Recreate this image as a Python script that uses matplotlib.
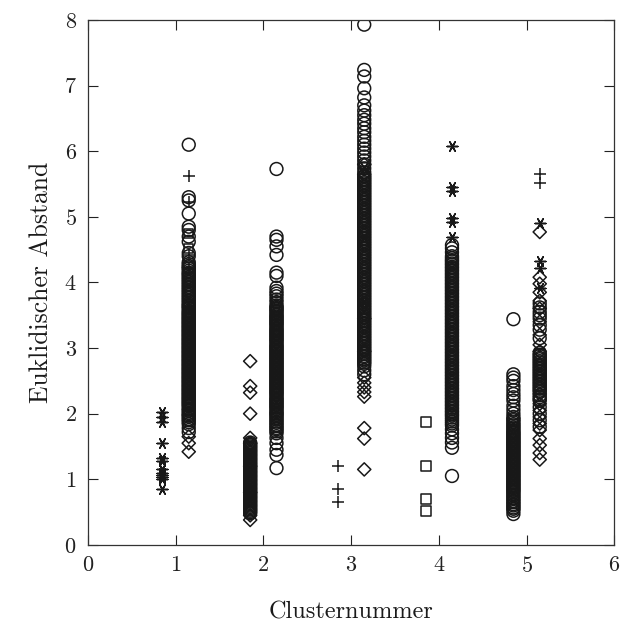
import numpy as np
import matplotlib.pyplot as plt

plt.rcParams['font.family'] = ['cmr10', 'DejaVu Serif']
plt.rcParams['axes.formatter.use_mathtext'] = True

# x positions of the columns (cluster number -/+ offset)
x_left = [0.85, 1.85, 2.85, 3.85, 4.85]
x_right = [1.15, 2.15, 3.15, 4.15, 5.15]

# cluster 1
c1l_star = [2.02, 1.95, 1.88, 1.55, 1.32, 1.28, 1.15, 1.10, 1.07, 1.03, 1.00, 0.85]
c1r_circ = [6.10, 5.30, 5.25, 5.05, 4.85, 4.80, 4.70, 4.62, 4.45, 4.40, 4.31, 4.25,
            4.21, 4.15, 4.11, 4.06, 4.01, 3.96, 3.91, 3.86, 3.81, 3.76, 3.71, 3.66,
            3.62, 3.57, 3.53, 3.49, 3.45, 3.41, 3.37, 3.33, 3.29, 3.25, 3.21, 3.17,
            3.13, 3.09, 3.05, 3.01, 2.97, 2.93, 2.89, 2.85, 2.81, 2.77, 2.73, 2.69,
            2.65, 2.61, 2.57, 2.53, 2.49, 2.45, 2.41, 2.37, 2.33, 2.29, 2.25, 2.21,
            2.17, 2.13, 2.08, 2.04, 1.99, 1.95, 1.90, 1.84, 1.78, 1.72]
c1r_fill = [4.28, 4.23, 4.18, 4.13, 4.08, 4.03, 3.98, 3.93, 3.88, 3.83, 3.78, 3.73,
            3.68, 3.64, 3.60, 3.55, 3.51, 3.47, 3.43, 3.39, 3.35, 3.31, 3.27, 3.23,
            3.19, 3.15, 3.11, 3.07, 3.03, 2.99, 2.95, 2.91, 2.87, 2.83, 2.79, 2.75,
            2.71, 2.67, 2.63, 2.59, 2.55, 2.51, 2.47, 2.43, 2.39, 2.35, 2.31, 2.27,
            2.23, 2.19, 2.15, 2.11, 2.06, 2.01, 1.97, 1.92, 1.87]
c1r_plus = [5.62, 5.22, 4.42, 4.20, 3.60]
c1r_sq = [4.75, 4.52, 4.00, 3.40]
c1r_diam = [1.65, 1.55, 1.42]

# cluster 2
c2l_diam = [2.80, 2.42, 2.32, 2.00, 1.63, 1.55, 1.20, 0.80, 0.45, 0.38]
c2l_circ = [1.56, 1.52, 1.48, 1.44, 1.40, 1.36, 1.32, 1.28, 1.24, 1.20, 1.16, 1.12,
            1.08, 1.04, 1.00, 0.96, 0.92, 0.88, 0.84, 0.80, 0.76, 0.72, 0.68, 0.64,
            0.60, 0.56, 0.52, 0.48]
c2l_fill = [1.54, 1.50, 1.46, 1.42, 1.38, 1.34, 1.30, 1.26, 1.22, 1.18, 1.14, 1.10,
            1.06, 1.02, 0.98, 0.94, 0.90, 0.86, 0.82, 0.78, 0.74, 0.70, 0.66, 0.62,
            0.58, 0.54, 0.50]
c2r_circ = [5.73, 4.70, 4.65, 4.55, 4.42, 4.15, 4.10, 3.92, 3.87, 3.83, 3.79, 3.74,
            3.70, 3.65, 3.61, 3.57, 3.52, 3.48, 3.44, 3.40, 3.36, 3.31, 3.27, 3.23,
            3.19, 3.15, 3.11, 3.06, 3.02, 2.98, 2.94, 2.90, 2.86, 2.82, 2.78, 2.74,
            2.70, 2.66, 2.62, 2.58, 2.54, 2.50, 2.46, 2.42, 2.38, 2.34, 2.30, 2.25,
            2.21, 2.17, 2.13, 2.09, 2.04, 2.00, 1.96, 1.91, 1.86, 1.81, 1.76, 1.70,
            1.63, 1.55, 1.45, 1.37, 1.17]
c2r_fill = [3.63, 3.59, 3.55, 3.50, 3.46, 3.42, 3.38, 3.34, 3.29, 3.25, 3.21, 3.17,
            3.13, 3.09, 3.04, 3.00, 2.96, 2.92, 2.88, 2.84, 2.80, 2.76, 2.72, 2.68,
            2.64, 2.60, 2.56, 2.52, 2.48, 2.44, 2.40, 2.36, 2.32, 2.28, 2.23, 2.19,
            2.15, 2.11, 2.07, 2.02, 1.98, 1.93, 1.88, 1.83, 1.78, 1.73]
c2r_sq = [3.70, 3.35, 2.45]

# cluster 3
c3l_plus = [1.20, 0.85, 0.65]
c3r_circ = [7.93, 7.24, 7.14, 6.96, 6.82, 6.70, 6.62, 6.55, 6.48, 6.42, 6.35, 6.29,
            6.22, 6.16, 6.10, 6.04, 5.98, 5.92, 5.86, 5.80, 5.74, 5.68, 5.63, 5.58,
            5.53, 5.48, 5.43, 5.38, 5.33, 5.28, 5.23, 5.18, 5.13, 5.08, 5.03, 4.98,
            4.93, 4.88, 4.83, 4.78, 4.73, 4.68, 4.63, 4.58, 4.53, 4.48, 4.43, 4.38,
            4.33, 4.28, 4.23, 4.18, 4.13, 4.08, 4.03, 3.98, 3.93, 3.88, 3.83, 3.78,
            3.73, 3.68, 3.63, 3.58, 3.53, 3.48, 3.43, 3.38, 3.33, 3.28, 3.23, 3.18,
            3.13, 3.08, 3.03, 2.98, 2.93, 2.88, 2.83, 2.78, 2.72, 2.66, 2.60]
c3r_fill = [5.61, 5.56, 5.51, 5.46, 5.41, 5.36, 5.31, 5.26, 5.21, 5.16, 5.11, 5.06,
            5.01, 4.96, 4.91, 4.86, 4.81, 4.76, 4.71, 4.66, 4.61, 4.56, 4.51, 4.46,
            4.41, 4.36, 4.31, 4.26, 4.21, 4.16, 4.11, 4.06, 4.01, 3.96, 3.91, 3.86,
            3.81, 3.76, 3.71, 3.66, 3.61, 3.56, 3.51, 3.46, 3.41, 3.36, 3.31, 3.26,
            3.21, 3.16, 3.11, 3.06, 3.01, 2.96, 2.91, 2.86, 2.81, 2.76]
c3r_diam = [5.80, 5.65, 3.45, 2.95, 2.55, 2.47, 2.40, 2.33, 2.26, 1.78, 1.62, 1.15]
c3r_star = [5.75, 4.70, 3.70]

# cluster 4
c4l_sq = [1.87, 1.20, 0.70, 0.52]
c4r_star = [6.08, 5.46, 5.40, 4.98, 4.92, 4.70]
c4r_circ = [4.57, 4.52, 4.46, 4.40, 4.34, 4.29, 4.24, 4.19, 4.14, 4.09, 4.04, 3.99,
            3.94, 3.89, 3.84, 3.79, 3.74, 3.69, 3.64, 3.59, 3.54, 3.49, 3.44, 3.39,
            3.34, 3.29, 3.24, 3.19, 3.14, 3.09, 3.04, 2.99, 2.94, 2.89, 2.84, 2.79,
            2.74, 2.69, 2.64, 2.59, 2.54, 2.49, 2.44, 2.39, 2.34, 2.29, 2.24, 2.19,
            2.14, 2.09, 2.04, 1.99, 1.94, 1.88, 1.82, 1.76, 1.70, 1.63, 1.56, 1.48,
            1.05]
c4r_fill = [4.37, 4.32, 4.27, 4.22, 4.17, 4.12, 4.07, 4.02, 3.97, 3.92, 3.87, 3.82,
            3.77, 3.72, 3.67, 3.62, 3.57, 3.52, 3.47, 3.42, 3.37, 3.32, 3.27, 3.22,
            3.17, 3.12, 3.07, 3.02, 2.97, 2.92, 2.87, 2.82, 2.77, 2.72, 2.67, 2.62,
            2.57, 2.52, 2.47, 2.42, 2.37, 2.32, 2.27, 2.22, 2.17, 2.12, 2.07, 2.02,
            1.97, 1.91, 1.85]

# cluster 5
c5l_circ = [3.44, 2.60, 2.55, 2.50, 2.42, 2.36, 2.30, 2.25, 2.20, 2.12, 2.06, 2.00,
            1.95, 1.90, 1.84, 1.79, 1.74, 1.70, 1.66, 1.62, 1.58, 1.54, 1.50, 1.46,
            1.42, 1.38, 1.34, 1.30, 1.26, 1.22, 1.18, 1.14, 1.10, 1.06, 1.02, 0.98,
            0.94, 0.90, 0.86, 0.82, 0.77, 0.72, 0.67, 0.62, 0.57, 0.52, 0.47]
c5l_fill = [1.92, 1.87, 1.82, 1.77, 1.72, 1.68, 1.64, 1.60, 1.56, 1.52, 1.48, 1.44,
            1.40, 1.36, 1.32, 1.28, 1.24, 1.20, 1.16, 1.12, 1.08, 1.04, 1.00, 0.96,
            0.92, 0.88, 0.84, 0.80, 0.75, 0.70, 0.65, 0.60, 0.55]
c5r_plus = [5.66, 5.52]
c5r_star = [4.90, 4.33, 4.22, 3.92]
c5r_diam = [4.77, 4.08, 3.98, 3.85, 3.72, 3.60, 3.40, 3.20, 3.05, 2.95, 2.30, 2.15,
            2.05, 1.95, 1.85, 1.75, 1.62, 1.52, 1.40, 1.30]
c5r_circ = [3.68, 3.62, 3.55, 3.50, 3.45, 3.35, 3.28, 3.15, 2.90, 2.85, 2.80, 2.75,
            2.70, 2.65, 2.60, 2.55, 2.50, 2.45, 2.40, 2.35, 2.25, 2.20, 2.10, 2.00,
            1.90, 1.80]
c5r_fill = [2.93, 2.88, 2.83, 2.78, 2.73, 2.68, 2.63, 2.58, 2.53, 2.48, 2.43, 2.38,
            2.33, 2.28, 2.22]

fig = plt.figure(figsize=(6.32, 6.27), dpi=100)
ax = fig.add_axes([0.139, 0.131, 0.833, 0.837])

ec = '#181818'
star6 = (6, 2, 90)


def col(x, vals, marker, s, lw=1.1):
    xs = [x] * len(vals)
    if marker in ('+', star6):
        ax.scatter(xs, vals, marker=marker, s=s, color=ec, linewidths=lw)
    else:
        ax.scatter(xs, vals, marker=marker, s=s, facecolors='none',
                   edgecolors=ec, linewidths=lw)


col(x_left[0], c1l_star, star6, 60)
col(x_right[0], c1r_circ, 'o', 85)
col(x_right[0], c1r_fill, 'o', 85)
col(x_right[0], c1r_plus, '+', 70)
col(x_right[0], c1r_sq, 's', 45)
col(x_right[0], c1r_diam, 'D', 45)

col(x_left[1], c2l_circ, 'o', 85)
col(x_left[1], c2l_fill, 'o', 85)
col(x_left[1], c2l_diam, 'D', 45)
col(x_right[1], c2r_circ, 'o', 85)
col(x_right[1], c2r_fill, 'o', 85)
col(x_right[1], c2r_sq, 's', 45)

col(x_left[2], c3l_plus, '+', 80)
col(x_right[2], c3r_circ, 'o', 85)
col(x_right[2], c3r_fill, 'o', 85)
col(x_right[2], c3r_diam, 'D', 45)
col(x_right[2], c3r_star, star6, 60)

col(x_left[3], c4l_sq, 's', 55)
col(x_right[3], c4r_circ, 'o', 85)
col(x_right[3], c4r_fill, 'o', 85)
col(x_right[3], c4r_star, star6, 60)

col(x_left[4], c5l_circ, 'o', 85)
col(x_left[4], c5l_fill, 'o', 85)
col(x_right[4], c5r_circ, 'o', 85)
col(x_right[4], c5r_fill, 'o', 85)
col(x_right[4], c5r_diam, 'D', 45)
col(x_right[4], c5r_star, star6, 60)
col(x_right[4], c5r_plus, '+', 80)

ax.set_xlim(0, 6)
ax.set_ylim(0, 8)
ax.set_xticks(range(0, 7))
ax.set_yticks(range(0, 9))
ax.tick_params(direction='in', length=7, width=0.8, top=True, right=True,
               labelsize=16, pad=8, colors='#222222')
for sp in ax.spines.values():
    sp.set_linewidth(0.9)
    sp.set_color('#333333')

ax.set_xlabel('Clusternummer', fontsize=17.5, labelpad=18, color='#1a1a1a')
ax.set_ylabel('Euklidischer Abstand', fontsize=18.5, labelpad=8, color='#1a1a1a')

fig.savefig('out.png', dpi=100)
